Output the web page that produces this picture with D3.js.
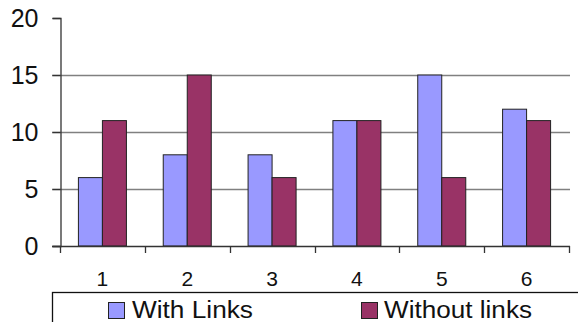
<!DOCTYPE html>
<html>
<head>
<meta charset="utf-8">
<script src="https://cdn.jsdelivr.net/npm/d3@7"></script>
<style>
  html, body { margin: 0; padding: 0; background: #fff; }
  svg { display: block; font-family: Arial, "Liberation Sans", sans-serif; }
</style>
</head>
<body>
<svg id="chart" width="578" height="322"></svg>
<script>
// Chart data
const categories = ["1", "2", "3", "4", "5", "6"];
const seriesNames = ["With Links", "Without links"];
const withLinks = [6, 8, 8, 11, 15, 12];
const withoutLinks = [11, 15, 6, 11, 6, 11];
const yTicks = [0, 5, 10, 15, 20];
const seriesColors = ["#9999FF", "#993366"];

const svg = d3.select("#chart");

const plot = { left: 60, right: 569, top: 18, bottom: 246 };

const x = d3.scaleBand()
  .domain(categories)
  .range([plot.left, plot.right])
  .paddingInner(0.434)
  .paddingOuter(0.217);

const xSeries = d3.scaleBand()
  .domain(seriesNames)
  .range([0, x.bandwidth()]);

const y = d3.scaleLinear()
  .domain([0, 20])
  .range([plot.bottom, plot.top]);

// Horizontal gridlines (skip the top value, which only gets a tick)
svg.append("g")
  .selectAll("line")
  .data(yTicks.filter(v => v > 0 && v < 20))
  .join("line")
  .attr("x1", plot.left - 8)
  .attr("x2", plot.right + 1)
  .attr("y1", d => Math.round(y(d)) + 0.5)
  .attr("y2", d => Math.round(y(d)) + 0.5)
  .attr("stroke", "#808080")
  .attr("stroke-width", 1.3);

// Bars
const rows = categories.map((c, i) => ({ c, vals: [withLinks[i], withoutLinks[i]] }));
const groups = svg.append("g")
  .selectAll("g")
  .data(rows)
  .join("g")
  .attr("transform", d => `translate(${x(d.c)},0)`);

groups.selectAll("rect")
  .data(d => d.vals.map((v, k) => ({ v, k })))
  .join("rect")
  .attr("x", d => xSeries(seriesNames[d.k]))
  .attr("width", xSeries.bandwidth())
  .attr("y", d => y(d.v))
  .attr("height", d => y(0) - y(d.v))
  .attr("fill", d => seriesColors[d.k])
  .attr("stroke", "#222")
  .attr("stroke-width", 1);

// Y axis
const yAxis = d3.axisLeft(y)
  .tickValues(yTicks)
  .tickSize(8)
  .tickPadding(14)
  .tickFormat(d3.format("d"));

const gy = svg.append("g")
  .attr("transform", `translate(${plot.left + 0.5},0)`)
  .call(yAxis);
gy.select(".domain").attr("stroke", "#333").attr("stroke-width", 1.3);
gy.selectAll(".tick line").attr("stroke", "#333").attr("stroke-width", 1.3);
gy.selectAll(".tick text")
  .attr("font-size", 25)
  .attr("fill", "#111")
  .attr("font-family", "Arial, 'Liberation Sans', sans-serif");

// X axis baseline
svg.append("line")
  .attr("x1", plot.left - 8)
  .attr("x2", plot.right + 1)
  .attr("y1", plot.bottom + 0.5)
  .attr("y2", plot.bottom + 0.5)
  .attr("stroke", "#333")
  .attr("stroke-width", 1.3);

// X category separators
const sepX = categories.map(c => x(c) - x.step() * x.paddingOuter()).concat([plot.right]);
svg.append("g")
  .selectAll("line")
  .data(sepX)
  .join("line")
  .attr("x1", d => Math.round(d) + 0.5)
  .attr("x2", d => Math.round(d) + 0.5)
  .attr("y1", plot.bottom)
  .attr("y2", plot.bottom + 7)
  .attr("stroke", "#333")
  .attr("stroke-width", 1.3);

// X labels
svg.append("g")
  .selectAll("text")
  .data(categories)
  .join("text")
  .attr("x", d => x(d) + x.bandwidth() / 2)
  .attr("y", 286)
  .attr("text-anchor", "middle")
  .attr("font-size", 21)
  .attr("fill", "#111")
  .text(d => d);

// Legend
const legend = svg.append("g");
legend.append("rect")
  .attr("x", 52.5)
  .attr("y", 292.5)
  .attr("width", 540)
  .attr("height", 60)
  .attr("fill", "#fff")
  .attr("stroke", "#111")
  .attr("stroke-width", 1.3);

const legendItems = [
  { name: seriesNames[0], color: seriesColors[0], sx: 108, tx: 132, w: 121 },
  { name: seriesNames[1], color: seriesColors[1], sx: 361, tx: 384, w: 148 }
];
legendItems.forEach(it => {
  legend.append("rect")
    .attr("x", it.sx + 0.5)
    .attr("y", 302.5)
    .attr("width", 16)
    .attr("height", 16)
    .attr("fill", it.color)
    .attr("stroke", "#222")
    .attr("stroke-width", 1);
  legend.append("text")
    .attr("x", it.tx)
    .attr("y", 318)
    .attr("font-size", 23)
    .attr("fill", "#111")
    .attr("textLength", it.w)
    .attr("lengthAdjust", "spacingAndGlyphs")
    .text(it.name);
});
</script>
</body>
</html>
